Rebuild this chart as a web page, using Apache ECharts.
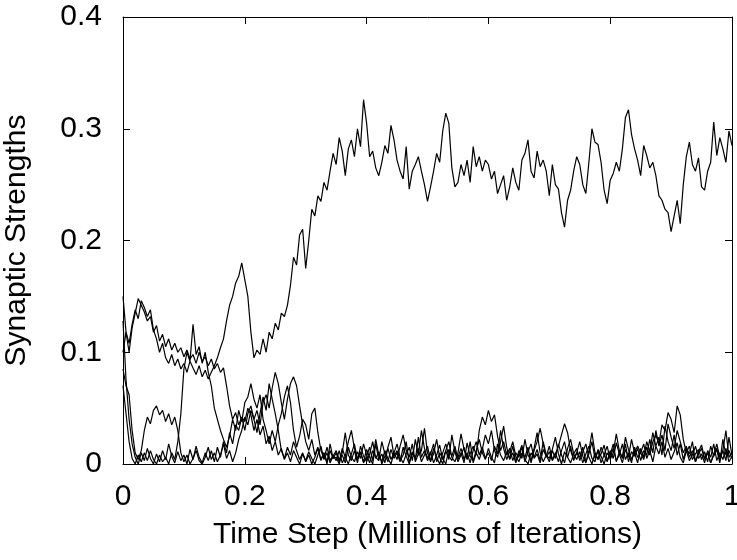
<!DOCTYPE html>
<html lang="en">
<head>
    <meta charset="UTF-8">
    <title>Synaptic Strengths</title>
    <script src="https://cdn.jsdelivr.net/npm/echarts@6/dist/echarts.min.js"></script>
    <style>
        html, body { margin: 0; padding: 0; background: #fff; }
    </style>
</head>
<body>

<div id="chart_wrap" style="width: 737px; height: 560px;"></div>

<script>
    // one sample every 0.005 million iterations, 0 .. 1
    var timeStep = 0.005;

    var weightA = [
        0.100, 0.118, 0.108, 0.125, 0.138, 0.130, 0.146, 0.140, 0.132, 0.138,
        0.120, 0.112, 0.100, 0.108, 0.095, 0.090, 0.098, 0.088, 0.094, 0.085,
        0.090, 0.082, 0.092, 0.086, 0.080, 0.088, 0.078, 0.084, 0.076, 0.082,
        0.088, 0.095, 0.104, 0.112, 0.128, 0.142, 0.150, 0.162, 0.168, 0.180,
        0.165, 0.150, 0.118, 0.095, 0.102, 0.098, 0.112, 0.100, 0.118, 0.112,
        0.126, 0.120, 0.135, 0.132, 0.142, 0.160, 0.185, 0.178, 0.205, 0.210,
        0.175, 0.200, 0.228, 0.222, 0.240, 0.235, 0.252, 0.245, 0.262, 0.278,
        0.268, 0.292, 0.280, 0.258, 0.282, 0.290, 0.275, 0.300, 0.284, 0.326,
        0.305, 0.275, 0.280, 0.265, 0.258, 0.270, 0.285, 0.278, 0.303, 0.290,
        0.272, 0.262, 0.255, 0.284, 0.246, 0.262, 0.268, 0.275, 0.262, 0.250,
        0.235, 0.248, 0.262, 0.278, 0.270, 0.298, 0.314, 0.305, 0.265, 0.248,
        0.252, 0.268, 0.258, 0.272, 0.252, 0.284, 0.266, 0.275, 0.262, 0.272,
        0.268, 0.255, 0.262, 0.242, 0.250, 0.258, 0.236, 0.248, 0.265, 0.252,
        0.245, 0.272, 0.278, 0.290, 0.262, 0.256, 0.280, 0.266, 0.272, 0.262,
        0.240, 0.268, 0.250, 0.246, 0.225, 0.212, 0.236, 0.245, 0.262, 0.275,
        0.268, 0.250, 0.242, 0.270, 0.300, 0.288, 0.286, 0.270, 0.245, 0.233,
        0.254, 0.260, 0.270, 0.262, 0.282, 0.310, 0.317, 0.295, 0.282, 0.272,
        0.258, 0.285, 0.276, 0.265, 0.270, 0.258, 0.240, 0.236, 0.228, 0.225,
        0.208, 0.222, 0.236, 0.215, 0.250, 0.275, 0.288, 0.268, 0.262, 0.274,
        0.248, 0.245, 0.262, 0.270, 0.306, 0.276, 0.292, 0.282, 0.270, 0.298,
        0.285
    ];

    var weightB = [
        0.150, 0.118, 0.100, 0.122, 0.135, 0.148, 0.142, 0.136, 0.128, 0.132,
        0.118, 0.124, 0.110, 0.116, 0.105, 0.112, 0.102, 0.108, 0.100, 0.104,
        0.096, 0.102, 0.094, 0.098, 0.090, 0.100, 0.092, 0.096, 0.088, 0.094,
        0.085, 0.090, 0.082, 0.086, 0.070, 0.052, 0.040, 0.046, 0.035, 0.042,
        0.030, 0.045, 0.052, 0.040, 0.048, 0.035, 0.055, 0.062, 0.050, 0.068,
        0.082, 0.072, 0.055, 0.040, 0.058, 0.072, 0.078, 0.070, 0.052, 0.035,
        0.020, 0.012, 0.022, 0.008, 0.015, 0.004, 0.010, 0.002, 0.012, 0.005,
        0.010, 0.002, 0.014, 0.006, 0.000, 0.009, 0.018, 0.004, 0.011, 0.001,
        0.007, 0.015, 0.003, 0.022, 0.008, 0.002, 0.012, 0.005, 0.000, 0.010,
        0.004, 0.016, 0.026, 0.012, 0.006, 0.018, 0.002, 0.009, 0.030, 0.014,
        0.005, 0.011, 0.001, 0.008, 0.017, 0.004, 0.012, 0.020, 0.006, 0.002,
        0.010, 0.027, 0.013, 0.004, 0.009, 0.016, 0.008, 0.030, 0.042, 0.035,
        0.048, 0.038, 0.044, 0.025, 0.012, 0.020, 0.008, 0.014, 0.003, 0.010,
        0.006, 0.015, 0.002, 0.011, 0.018, 0.005, 0.009, 0.001, 0.013, 0.007,
        0.016, 0.004, 0.010, 0.002, 0.012, 0.020, 0.006, 0.001, 0.009, 0.014,
        0.003, 0.011, 0.018, 0.006, 0.000, 0.010, 0.004, 0.015, 0.008, 0.002,
        0.012, 0.005, 0.019, 0.009, 0.001, 0.013, 0.006, 0.022, 0.010, 0.016,
        0.010, 0.004, 0.015, 0.008, 0.020, 0.026, 0.018, 0.035, 0.030, 0.046,
        0.040, 0.028, 0.052, 0.044, 0.022, 0.010, 0.016, 0.004, 0.009, 0.013,
        0.004, 0.011, 0.002, 0.016, 0.007, 0.013, 0.001, 0.022, 0.008, 0.012,
        0.005
    ];

    var weightC = [
        0.070, 0.045, 0.020, 0.005, 0.000, 0.008, 0.002, 0.010, 0.003, 0.012,
        0.004, 0.000, 0.008, 0.002, 0.006, 0.000, 0.010, 0.004, 0.020, 0.045,
        0.085, 0.100, 0.092, 0.125, 0.098, 0.105, 0.090, 0.100, 0.082, 0.070,
        0.050, 0.040, 0.030, 0.022, 0.015, 0.025, 0.040, 0.030, 0.048, 0.038,
        0.055, 0.060, 0.072, 0.058, 0.050, 0.062, 0.040, 0.030, 0.018, 0.030,
        0.020, 0.035, 0.045, 0.060, 0.070, 0.055, 0.030, 0.015, 0.025, 0.040,
        0.035, 0.022, 0.045, 0.050, 0.028, 0.012, 0.005, 0.015, 0.003, 0.008,
        0.003, 0.012, 0.001, 0.007, 0.020, 0.030, 0.014, 0.005, 0.010, 0.002,
        0.013, 0.006, 0.000, 0.018, 0.004, 0.009, 0.001, 0.015, 0.024, 0.007,
        0.012, 0.003, 0.008, 0.020, 0.001, 0.010, 0.005, 0.014, 0.002, 0.008,
        0.016, 0.003, 0.009, 0.022, 0.006, 0.000, 0.012, 0.004, 0.026, 0.011,
        0.002, 0.008, 0.015, 0.005, 0.020, 0.001, 0.010, 0.004, 0.013, 0.026,
        0.018, 0.030, 0.012, 0.006, 0.020, 0.034, 0.015, 0.004, 0.010, 0.001,
        0.012, 0.005, 0.022, 0.008, 0.003, 0.014, 0.028, 0.010, 0.002, 0.008,
        0.005, 0.013, 0.024, 0.009, 0.000, 0.011, 0.006, 0.016, 0.003, 0.010,
        0.020, 0.007, 0.001, 0.012, 0.028, 0.010, 0.004, 0.009, 0.017, 0.003,
        0.008, 0.018, 0.002, 0.011, 0.006, 0.024, 0.013, 0.004, 0.010, 0.001,
        0.014, 0.006, 0.020, 0.011, 0.028, 0.016, 0.024, 0.008, 0.034, 0.020,
        0.012, 0.026, 0.008, 0.018, 0.004, 0.014, 0.009, 0.020, 0.002, 0.011,
        0.017, 0.005, 0.010, 0.001, 0.009, 0.014, 0.003, 0.012, 0.030, 0.006,
        0.010
    ];

    var weightD = [
        0.085, 0.070, 0.062, 0.030, 0.010, 0.004, 0.012, 0.030, 0.042, 0.036,
        0.048, 0.052, 0.044, 0.048, 0.038, 0.045, 0.035, 0.042, 0.030, 0.010,
        0.002, 0.008, 0.000, 0.005, 0.012, 0.003, 0.000, 0.006, 0.015, 0.004,
        0.010, 0.002, 0.008, 0.018, 0.005, 0.012, 0.002, 0.010, 0.022, 0.030,
        0.042, 0.035, 0.048, 0.040, 0.028, 0.045, 0.060, 0.048, 0.072, 0.058,
        0.045, 0.030, 0.012, 0.005, 0.015, 0.008, 0.020, 0.012, 0.004, 0.010,
        0.002, 0.008, 0.000, 0.006, 0.014, 0.003, 0.010, 0.000, 0.018, 0.005,
        0.006, 0.000, 0.010, 0.028, 0.008, 0.003, 0.012, 0.001, 0.016, 0.007,
        0.002, 0.009, 0.020, 0.005, 0.011, 0.000, 0.007, 0.014, 0.004, 0.010,
        0.018, 0.006, 0.001, 0.009, 0.015, 0.003, 0.022, 0.008, 0.012, 0.032,
        0.010, 0.002, 0.014, 0.006, 0.000, 0.010, 0.018, 0.007, 0.003, 0.012,
        0.006, 0.014, 0.004, 0.010, 0.001, 0.012, 0.020, 0.008, 0.015, 0.005,
        0.010, 0.003, 0.016, 0.009, 0.030, 0.014, 0.004, 0.011, 0.020, 0.007,
        0.002, 0.010, 0.006, 0.015, 0.001, 0.012, 0.020, 0.032, 0.018, 0.006,
        0.011, 0.003, 0.009, 0.016, 0.026, 0.036, 0.028, 0.012, 0.004, 0.010,
        0.006, 0.015, 0.002, 0.009, 0.020, 0.005, 0.012, 0.001, 0.008, 0.016,
        0.004, 0.010, 0.027, 0.012, 0.005, 0.018, 0.002, 0.011, 0.007, 0.014,
        0.003, 0.012, 0.008, 0.022, 0.010, 0.030, 0.016, 0.026, 0.012, 0.036,
        0.024, 0.014, 0.030, 0.020, 0.010, 0.016, 0.006, 0.012, 0.002, 0.009,
        0.014, 0.004, 0.010, 0.001, 0.008, 0.018, 0.006, 0.012, 0.003, 0.024,
        0.008
    ];

    var weightE = [
        0.128, 0.075, 0.040, 0.018, 0.006, 0.000, 0.010, 0.003, 0.014, 0.005,
        0.000, 0.009, 0.002, 0.012, 0.004, 0.018, 0.007, 0.001, 0.011, 0.003,
        0.008, 0.000, 0.013, 0.004, 0.016, 0.006, 0.001, 0.010, 0.003, 0.012,
        0.002, 0.015, 0.006, 0.020, 0.010, 0.028, 0.018, 0.035, 0.030, 0.042,
        0.038, 0.050, 0.044, 0.030, 0.040, 0.026, 0.034, 0.018, 0.025, 0.012,
        0.020, 0.008, 0.014, 0.004, 0.010, 0.002, 0.012, 0.006, 0.000, 0.009,
        0.003, 0.011, 0.005, 0.000, 0.008, 0.016, 0.004, 0.010, 0.001, 0.007,
        0.012, 0.004, 0.008, 0.001, 0.015, 0.006, 0.002, 0.011, 0.005, 0.018,
        0.008, 0.001, 0.012, 0.006, 0.003, 0.020, 0.009, 0.002, 0.013, 0.005,
        0.010, 0.002, 0.015, 0.007, 0.000, 0.011, 0.004, 0.024, 0.006, 0.012,
        0.003, 0.009, 0.018, 0.002, 0.010, 0.005, 0.000, 0.013, 0.007, 0.016,
        0.004, 0.010, 0.001, 0.019, 0.007, 0.003, 0.012, 0.022, 0.010, 0.004,
        0.014, 0.006, 0.001, 0.018, 0.008, 0.003, 0.011, 0.005, 0.016, 0.002,
        0.009, 0.017, 0.004, 0.000, 0.010, 0.006, 0.013, 0.003, 0.020, 0.008,
        0.002, 0.012, 0.005, 0.018, 0.008, 0.001, 0.014, 0.022, 0.009, 0.004,
        0.011, 0.001, 0.009, 0.016, 0.005, 0.002, 0.013, 0.007, 0.000, 0.010,
        0.006, 0.014, 0.003, 0.008, 0.018, 0.004, 0.010, 0.001, 0.015, 0.006,
        0.010, 0.018, 0.005, 0.012, 0.002, 0.016, 0.009, 0.020, 0.006, 0.014,
        0.004, 0.011, 0.019, 0.006, 0.001, 0.012, 0.003, 0.008, 0.016, 0.005,
        0.009, 0.001, 0.012, 0.006, 0.018, 0.003, 0.010, 0.004, 0.014, 0.002,
        0.007
    ];

    var chart_obj = document.getElementById("chart_wrap");
    var myChart = echarts.init(chart_obj, null, {renderer: 'canvas'});

    var font_family = '"Liberation Sans", Arial, Helvetica, sans-serif';

    function toPairs(values) {
        var pairs = [];
        for (var i = 0; i < values.length; i++) {
            pairs.push([+(i * timeStep).toFixed(3), values[i]]);
        }
        return pairs;
    }

    function makeLine(values) {
        return {
            type: 'line',
            data: toPairs(values),
            showSymbol: false,
            symbol: 'none',
            clip: true,
            lineStyle: { color: '#000', width: 1.2 },
            emphasis: { disabled: true },
            xAxisIndex: 0,
            yAxisIndex: 0
        };
    }

    var tick_style = { show: true, inside: true, length: 7, lineStyle: { color: '#000', width: 1 } };
    var line_style = { show: true, onZero: false, lineStyle: { color: '#000', width: 1 } };

    var option = {
        animation: false,
        backgroundColor: '#fff',
        grid: { left: 123, right: 5, top: 17, bottom: 96, containLabel: false, outerBoundsMode: 'none' },
        xAxis: [
            {
                type: 'value', position: 'bottom', min: 0, max: 1, interval: 0.2,
                axisLine: line_style, axisTick: tick_style, splitLine: { show: false },
                axisLabel: { color: '#000', fontSize: 30, fontFamily: font_family, margin: 18 },
                name: 'Time Step (Millions of Iterations)',
                nameLocation: 'middle', nameGap: 56,
                nameTextStyle: { color: '#000', fontSize: 30, fontFamily: font_family }
            },
            {
                type: 'value', position: 'top', min: 0, max: 1, interval: 0.2,
                axisLine: line_style, axisTick: tick_style, splitLine: { show: false },
                axisLabel: { show: false }
            }
        ],
        yAxis: [
            {
                type: 'value', position: 'left', min: 0, max: 0.4, interval: 0.1,
                axisLine: line_style, axisTick: tick_style, splitLine: { show: false },
                axisLabel: { color: '#000', fontSize: 30, fontFamily: font_family, margin: 21 },
                name: 'Synaptic Strengths',
                nameLocation: 'middle', nameGap: 91,
                nameTextStyle: { color: '#000', fontSize: 30, fontFamily: font_family }
            },
            {
                type: 'value', position: 'right', min: 0, max: 0.4, interval: 0.1,
                axisLine: line_style, axisTick: tick_style, splitLine: { show: false },
                axisLabel: { show: false }
            }
        ],
        series: [
            makeLine(weightE),
            makeLine(weightD),
            makeLine(weightC),
            makeLine(weightB),
            makeLine(weightA)
        ]
    };

    myChart.setOption(option);
</script>
</body>
</html>
